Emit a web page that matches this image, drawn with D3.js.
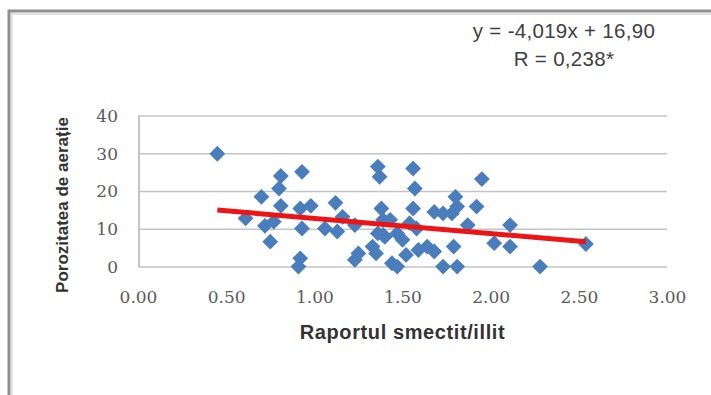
<!DOCTYPE html>
<html>
<head>
  <meta charset="utf-8">
  <title>porozitate</title>
  <style>
    body {margin:0; background:#fff;}
    svg.chart text {font-family: "Liberation Sans", Arial, sans-serif;}
    svg.chart .tick text {font-family: "DejaVu Serif", serif; font-size:17px; fill:#5a5a5a;}
    svg.chart .title {font-weight:bold; fill:#333;}
    svg.chart .eq {font-size:20.5px; fill:#404040; text-anchor:middle; letter-spacing:0.3px;}
  </style>
</head>
<body>
<script src="https://cdn.jsdelivr.net/npm/d3@7"></script>
<script>
  var width = 711,
      height = 395;

  // values
  var ratio = [0.45, 0.61, 0.70, 0.72, 0.75, 0.77, 0.80, 0.81, 0.81, 0.91,
               0.92, 0.92, 0.93, 0.93, 0.98, 1.06, 1.12, 1.13, 1.16, 1.23,
               1.25, 1.23, 1.33, 1.35, 1.36, 1.37, 1.38, 1.39, 1.43, 1.36,
               1.39, 1.40, 1.47, 1.50, 1.44, 1.47, 1.52, 1.56, 1.57, 1.56,
               1.54, 1.58, 1.59, 1.64, 1.68, 1.68, 1.73, 1.80, 1.81, 1.78,
               1.92, 1.95, 1.87, 1.79, 1.73, 1.81, 2.02, 2.11, 2.11, 2.28,
               2.54];
  var porosity = [30.0, 12.9, 18.6, 10.9, 6.7, 12.0, 20.8, 24.1, 16.2, 0.1,
                  2.3, 15.5, 10.2, 25.2, 16.2, 10.2, 17.0, 9.4, 13.3, 11.1,
                  3.6, 1.9, 5.4, 3.6, 26.6, 23.9, 15.5, 12.5, 12.5, 8.9,
                  8.5, 8.0, 8.9, 7.2, 1.0, 0.1, 3.2, 26.1, 20.8, 15.5,
                  11.6, 10.2, 4.5, 5.4, 4.1, 14.6, 14.2, 18.6, 16.0, 14.2,
                  16.0, 23.3, 11.1, 5.4, 0.1, 0.1, 6.3, 11.1, 5.4, 0.1,
                  6.1];
  var slope = -4.019,
      intercept = 16.90;
  var eqLines = ['y = -4,019x + 16,90', 'R = 0,238*'];
  var xTicks = [0, 0.5, 1, 1.5, 2, 2.5, 3],
      yTicks = [0, 10, 20, 30, 40];
  var xTitle = 'Raportul smectit/illit',
      yTitle = 'Porozitatea de aerație';

  var plot_left = 138,
      plot_right = 667,
      plot_top = 116,
      plot_bottom = 267;

  var x = d3.scaleLinear().domain([0, 3]).range([plot_left, plot_right]),
      y = d3.scaleLinear().domain([0, 40]).range([plot_bottom, plot_top]);

  var svg = d3.select('body')
    .append('svg')
    .attr('class', 'chart')
    .attr('width', width)
    .attr('height', height);

  // frame (top and left edge of the pasted chart)
  svg.append('path')
    .attr('d', 'M9,395V11H711')
    .attr('fill', 'none')
    .attr('stroke', '#8f8f8f')
    .attr('stroke-width', 3);
  svg.append('path')
    .attr('d', 'M12,395V14H711')
    .attr('fill', 'none')
    .attr('stroke', '#e2e2e2')
    .attr('stroke-width', 2);

  // gridlines
  svg.append('g')
    .selectAll('line')
    .data(yTicks)
    .join('line')
    .attr('x1', plot_left)
    .attr('x2', plot_right)
    .attr('y1', function(d){ return y(d) })
    .attr('y2', function(d){ return y(d) })
    .attr('stroke', '#c4c4c4')
    .attr('stroke-width', 1.5);

  svg.append('line')
    .attr('x1', plot_left + 1)
    .attr('x2', plot_left + 1)
    .attr('y1', plot_top)
    .attr('y2', plot_bottom)
    .attr('stroke', '#c4c4c4')
    .attr('stroke-width', 2);

  // axes, text only
  var yAxis = svg.append('g')
    .attr('transform', 'translate(' + (plot_left - 20) + ',0)')
    .call(d3.axisLeft(y).tickValues(yTicks).tickSize(0).tickPadding(0));

  var xAxis = svg.append('g')
    .attr('transform', 'translate(0,' + (plot_bottom + 24) + ')')
    .call(d3.axisBottom(x).tickValues(xTicks).tickSize(0).tickPadding(0)
      .tickFormat(d3.format('.2f')));

  [yAxis, xAxis].forEach(function(g){
    g.select('.domain').remove();
    g.attr('font-size', null).attr('font-family', null);
  });

  // points
  var pts = ratio.map(function(r, i){ return [r, porosity[i]] });
  var diamond = d3.symbol().type(d3.symbolSquare).size(125);

  svg.append('g')
    .selectAll('path')
    .data(pts)
    .join('path')
    .attr('d', diamond)
    .attr('transform', function(d){
      return 'translate(' + x(d[0]) + ',' + y(d[1]) + ') rotate(45)';
    })
    .attr('fill', '#4a7dbc');

  // trend line
  var ext = d3.extent(ratio);
  svg.append('line')
    .attr('x1', x(ext[0]))
    .attr('x2', x(ext[1]))
    .attr('y1', y(slope * ext[0] + intercept))
    .attr('y2', y(slope * ext[1] + intercept))
    .attr('stroke', '#ec1414')
    .attr('stroke-width', 5);

  // titles
  svg.append('text')
    .attr('class', 'title')
    .attr('x', (plot_left + plot_right) / 2)
    .attr('y', 339)
    .attr('text-anchor', 'middle')
    .style('font-size', '20px')
    .style('letter-spacing', '0.6px')
    .text(xTitle);

  svg.append('text')
    .attr('class', 'title')
    .attr('transform', 'translate(68,205) rotate(-90)')
    .attr('text-anchor', 'middle')
    .style('font-size', '17px')
    .text(yTitle);

  svg.append('g')
    .selectAll('text')
    .data(eqLines)
    .join('text')
    .attr('class', 'eq')
    .attr('x', 564)
    .attr('y', function(d, i){ return 38 + i * 28 })
    .text(function(d){ return d });
</script>
</body>
</html>
